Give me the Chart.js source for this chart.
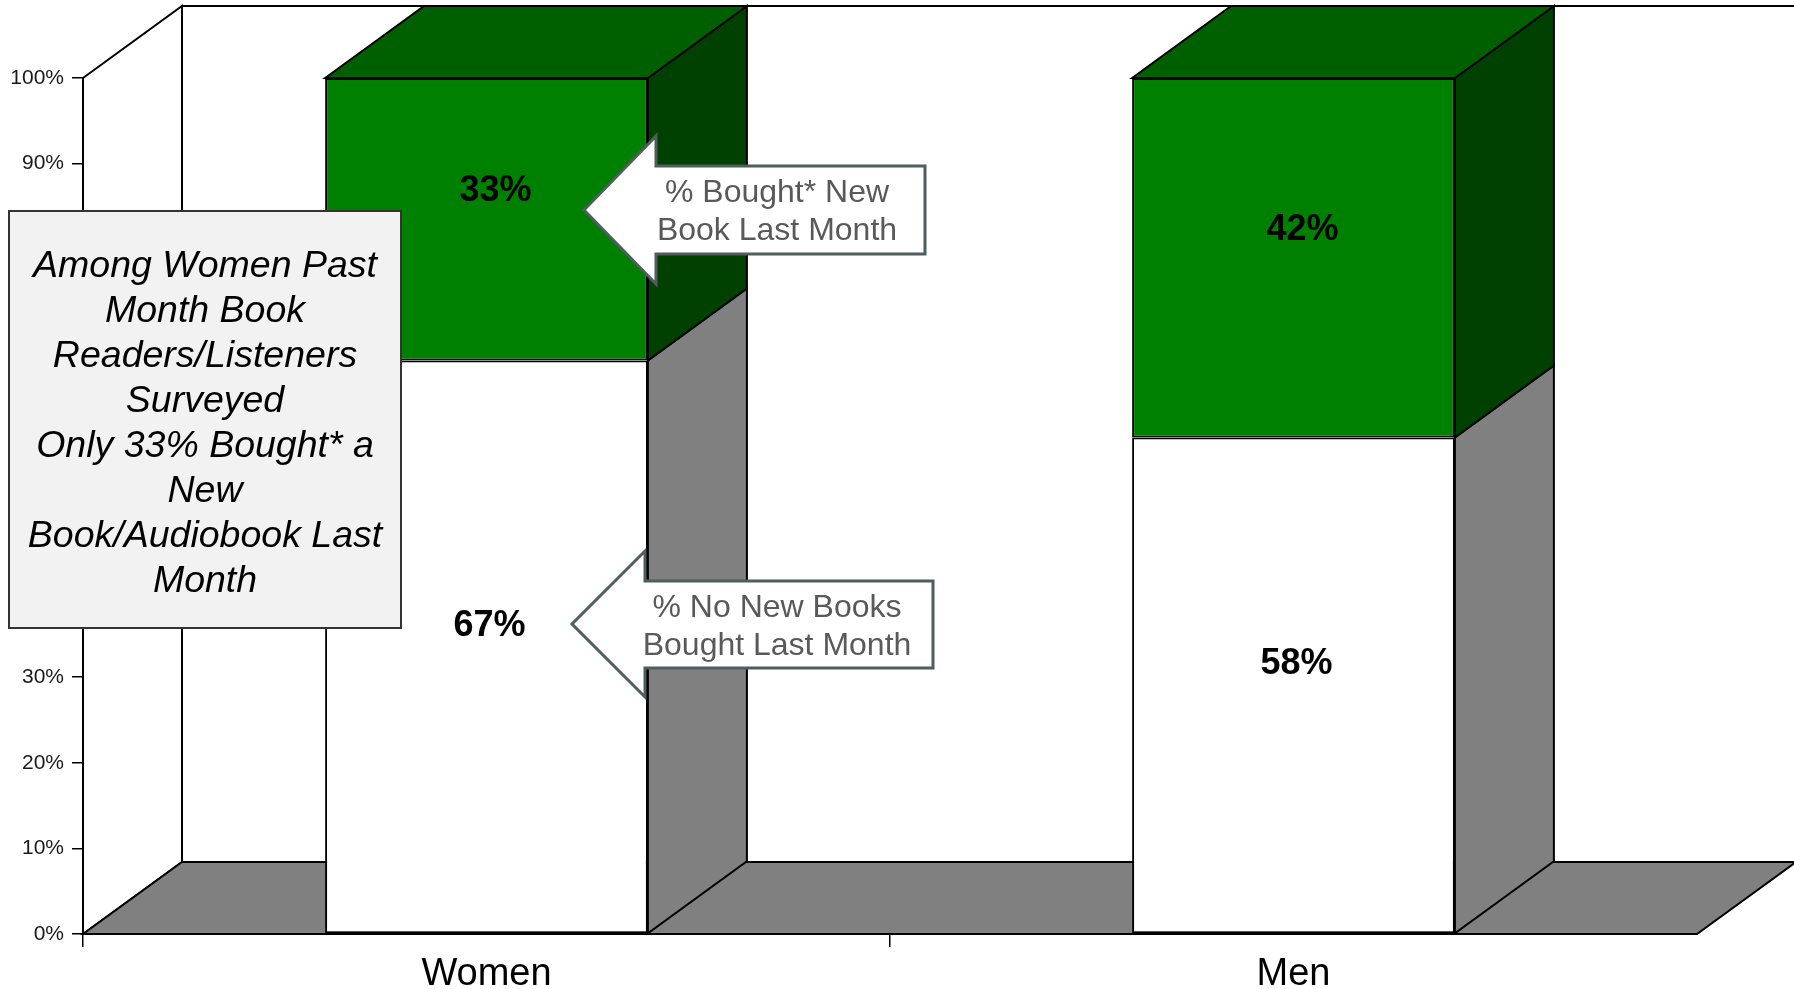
<!DOCTYPE html>
<html><head><meta charset="utf-8">
<script src="https://cdn.jsdelivr.net/npm/chart.js@4/dist/chart.umd.min.js"></script>
<style>html,body{margin:0;padding:0;background:#fff;overflow:hidden}#wrap{position:relative;width:1794px;height:989px}</style>
</head><body><div id="wrap"><canvas id="c" width="1794" height="989"></canvas></div>
<script>
// ---- data ----
const categories = ["Women", "Men"];
const noNewBooks = [67, 58];
const boughtNew = [33, 42];
const seriesNames = ["% No New Books Bought Last Month", "% Bought* New Book Last Month"];
const yTickValues = [0, 10, 20, 30, 40, 50, 60, 70, 80, 90, 100];
const noteLines = ["Among Women Past", "Month Book", "Readers/Listeners", "Surveyed", "Only 33% Bought* a", "New", "Book/Audiobook Last", "Month"];
const arrowLines1 = ["% Bought* New", "Book Last Month"];
const arrowLines2 = ["% No New Books", "Bought Last Month"];

// ---- styling ----
const FONT = '"Liberation Sans", Arial, Helvetica, sans-serif';
const DX = 99, DY = -72; // 3D depth offset
const frontColors = ["#ffffff", "#008000"];
const sideColors = ["#808080", "#004000"];
const topColor = "#006000";
const floorColor = "#808080";
const labelDX = [3, 9], labelDY = [-21, -28];

function poly(ctx, pts, fill, stroke, lw) {
  ctx.beginPath();
  ctx.moveTo(pts[0][0], pts[0][1]);
  for (let i = 1; i < pts.length; i++) ctx.lineTo(pts[i][0], pts[i][1]);
  ctx.closePath();
  if (fill) { ctx.fillStyle = fill; ctx.fill(); }
  if (stroke) { ctx.strokeStyle = stroke; ctx.lineWidth = lw || 2; ctx.lineJoin = 'miter'; ctx.stroke(); }
}

const threeD = {
  id: 'threeD',
  beforeDraw(chart) {
    const ctx = chart.ctx, a = chart.chartArea;
    const y = chart.scales.y;
    const top = y.getPixelForValue(100), bot = y.getPixelForValue(0);
    ctx.save();
    poly(ctx, [[a.left + DX, top + DY], [chart.width + 5, top + DY], [chart.width + 5, bot + DY], [a.left + DX, bot + DY]], '#ffffff', '#000', 2);
    poly(ctx, [[a.left, top], [a.left + DX, top + DY], [a.left + DX, bot + DY], [a.left, bot]], '#ffffff', '#000', 2);
    poly(ctx, [[a.left, bot], [a.left + DX, bot + DY], [a.right + DX, bot + DY], [a.right, bot]], floorColor, '#000', 2);
    ctx.restore();
  },
  afterDatasetsDraw(chart) {
    const ctx = chart.ctx;
    ctx.save();
    const n = chart.data.datasets.length;
    for (let d = 0; d < n; d++) {
      const meta = chart.getDatasetMeta(d);
      meta.data.forEach((bar) => {
        const p = bar.getProps(['x', 'y', 'base', 'width'], true);
        const left = p.x - p.width / 2, right = p.x + p.width / 2;
        const t = Math.min(p.y, p.base), b = Math.max(p.y, p.base);
        poly(ctx, [[right, t], [right + DX, t + DY], [right + DX, b + DY], [right, b]], sideColors[d], '#000', 2);
        if (d === n - 1) {
          poly(ctx, [[left, t], [left + DX, t + DY], [right + DX, t + DY], [right, t]], topColor, '#000', 2);
        }
      });
    }
    ctx.fillStyle = '#000';
    ctx.font = 'bold 36px ' + FONT;
    ctx.textAlign = 'center';
    ctx.textBaseline = 'middle';
    for (let d = 0; d < n; d++) {
      const meta = chart.getDatasetMeta(d);
      const vals = chart.data.datasets[d].data;
      meta.data.forEach((bar, i) => {
        const p = bar.getProps(['x', 'y', 'base'], true);
        ctx.fillText(vals[i] + '%', p.x + labelDX[d], (p.y + p.base) / 2 + labelDY[d]);
      });
    }
    ctx.restore();
  },
  afterDraw(chart) {
    const ctx = chart.ctx;
    ctx.save();
    ctx.fillStyle = '#f2f2f2';
    ctx.fillRect(9, 211, 392, 417);
    ctx.strokeStyle = '#333333';
    ctx.lineWidth = 2;
    ctx.strokeRect(9, 211, 392, 417);
    ctx.fillStyle = '#000';
    ctx.font = 'italic 37.5px ' + FONT;
    ctx.textAlign = 'center';
    ctx.textBaseline = 'alphabetic';
    noteLines.forEach((s, i) => ctx.fillText(s, 205, 277 + i * 45));

    function arrow(tipX, tipY, headX, headHalf, bodyTop, bodyBot, right, lines, textX, lineY0, lineGap) {
      poly(ctx, [[tipX, tipY], [headX, tipY - headHalf], [headX, bodyTop], [right, bodyTop], [right, bodyBot], [headX, bodyBot], [headX, tipY + headHalf]], '#ffffff', '#4f5d5d', 3);
      ctx.fillStyle = '#595959';
      ctx.font = '32px ' + FONT;
      ctx.textAlign = 'center';
      ctx.textBaseline = 'middle';
      lines.forEach((s, i) => ctx.fillText(s, textX, lineY0 + i * lineGap));
    }
    arrow(584, 210, 656, 74, 166, 254, 925, arrowLines1, 777, 193, 38);
    arrow(572, 624, 645, 73, 581, 668, 933, arrowLines2, 777, 608, 38);
    ctx.restore();
  }
};

new Chart(document.getElementById('c'), {
  type: 'bar',
  data: {
    labels: categories,
    datasets: [
      { label: seriesNames[0], data: noNewBooks, backgroundColor: frontColors[0], borderColor: '#000', borderWidth: 2, borderSkipped: false },
      { label: seriesNames[1], data: boughtNew, backgroundColor: frontColors[1], borderColor: '#000', borderWidth: 2, borderSkipped: false }
    ]
  },
  options: {
    responsive: false,
    animation: false,
    events: [],
    layout: { padding: { top: 78, right: 97, left: 0, bottom: 0 } },
    datasets: { bar: { categoryPercentage: 1.0, barPercentage: 0.4 } },
    plugins: { legend: { display: false }, tooltip: { enabled: false } },
    scales: {
      x: {
        stacked: true,
        offset: true,
        afterFit(s) { s.height = 55; },
        grid: {
          offset: true,
          drawOnChartArea: false,
          drawTicks: true,
          tickLength: 13,
          lineWidth: 1.5,
          color: (c) => c.type === 'tick' ? '#000' : 'rgba(0,0,0,0)'
        },
        border: { display: true, color: '#000', width: 2 },
        ticks: { color: '#000', font: { family: FONT, size: 38 }, padding: 5 }
      },
      y: {
        stacked: true,
        min: 0, max: 100,
        afterFit(s) { s.width = 83; },
        afterBuildTicks(s) { s.ticks = yTickValues.map(v => ({ value: v })); },
        grid: { drawOnChartArea: false, drawTicks: true, tickLength: 11, lineWidth: 1.5, color: '#000' },
        border: { display: true, color: '#000', width: 2 },
        ticks: { color: '#1a1a1a', font: { family: FONT, size: 21 }, padding: 8, callback: (v) => v + '%' }
      }
    }
  },
  plugins: [threeD]
});
</script>
</body></html>
